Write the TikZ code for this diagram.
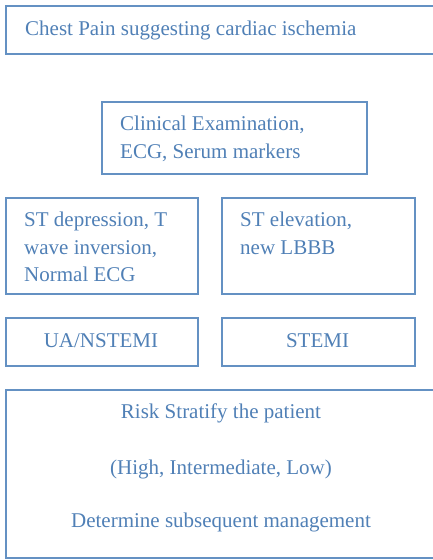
\documentclass[tikz,border=0pt]{standalone}
\usepackage{fontspec}
\setmainfont{Liberation Serif}
\definecolor{boxline}{RGB}{100,145,195}
\definecolor{boxtext}{RGB}{80,128,182}
\tikzset{
  box/.style={draw=boxline, line width=1.6pt, rectangle, inner sep=0pt, anchor=north west},
  ln/.style={text=boxtext, inner sep=0pt, font=\fontsize{21}{25}\selectfont},
}
\begin{document}
\begin{tikzpicture}[x=1pt,y=-1pt]
\useasboundingbox (0,0) rectangle (433,560);
\clip (0,0) rectangle (433,560);
% boxes
\node[box, minimum width=432pt, minimum height=48pt] (chest) at (5,5) {};
\node[box, minimum width=265pt, minimum height=72pt] (clin) at (101,101) {};
\node[box, minimum width=192pt, minimum height=96pt] (stdep) at (5,197) {};
\node[box, minimum width=193pt, minimum height=96pt] (stel) at (221,197) {};
\node[box, minimum width=192pt, minimum height=48pt] (ua) at (5,317) {};
\node[box, minimum width=193pt, minimum height=48pt] (stemi) at (221,317) {};
\node[box, minimum width=432pt, minimum height=168pt] (risk) at (5,389) {};
% texts
\node[ln, anchor=base west] (t1) at (25,35) {Chest Pain suggesting cardiac ischemia};
\node[ln, anchor=base west] (t2a) at (120,130) {Clinical Examination,};
\node[ln, anchor=base west] (t2b) at (120,158) {ECG, Serum markers};
\node[ln, anchor=base west] (t3a) at (24,226) {ST depression, T};
\node[ln, anchor=base west] (t3b) at (24,254) {wave inversion,};
\node[ln, anchor=base west] (t3c) at (24,281) {Normal ECG};
\node[ln, anchor=base west] (t4a) at (240,226) {ST elevation,};
\node[ln, anchor=base west] (t4b) at (240,254) {new LBBB};
\node[ln, anchor=base] (t5) at (101,347) {UA/NSTEMI};
\node[ln, anchor=base] (t6) at (317.5,347) {STEMI};
\node[ln, anchor=base] (t7a) at (221,418) {Risk Stratify the patient};
\node[ln, anchor=base] (t7b) at (221,474) {(High, Intermediate, Low)};
\node[ln, anchor=base] (t7c) at (221,527) {Determine subsequent management};
\end{tikzpicture}
\end{document}
